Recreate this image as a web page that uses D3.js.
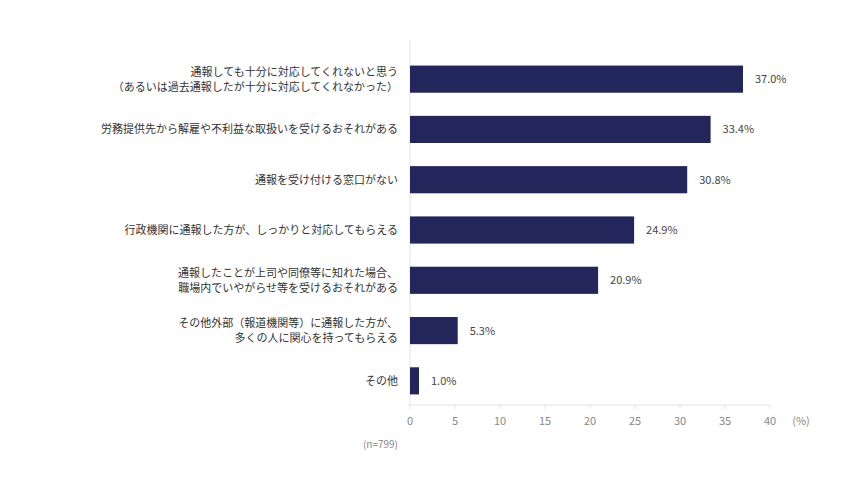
<!DOCTYPE html>
<html><head><meta charset="utf-8">
<script src="https://cdn.jsdelivr.net/npm/d3@7"></script>
<style>body{margin:0;background:#fff}text{font-family:"Noto Sans CJK JP",sans-serif}</style>
</head><body><svg id="c" width="860" height="500"></svg>
<script>
const categories = [
  ["通報しても十分に対応してくれないと思う","（あるいは過去通報したが十分に対応してくれなかった）"],
  ["労務提供先から解雇や不利益な取扱いを受けるおそれがある"],
  ["通報を受け付ける窓口がない"],
  ["行政機関に通報した方が、しっかりと対応してもらえる"],
  ["通報したことが上司や同僚等に知れた場合、","職場内でいやがらせ等を受けるおそれがある"],
  ["その他外部（報道機関等）に通報した方が、","多くの人に関心を持ってもらえる"],
  ["その他"]
];
const values = [37.0, 33.4, 30.8, 24.9, 20.9, 5.3, 1.0];
const ticks = [0,5,10,15,20,25,30,35,40];

const svg = d3.select("#c");
const x = d3.scaleLinear().domain([0,40]).range([410,770]);
const y = d3.scaleBand().domain(d3.range(values.length)).range([54,406]).paddingInner(0.46).paddingOuter(0.23);
const g = svg.append("g");
g.append("line").attr("x1",410).attr("x2",410).attr("y1",40).attr("y2",405).attr("stroke","#e3e3e3");
g.append("line").attr("x1",408).attr("x2",770).attr("y1",405).attr("y2",405).attr("stroke","#e3e3e3");
ticks.forEach(t=>{
  g.append("line").attr("x1",x(t)).attr("x2",x(t)).attr("y1",405).attr("y2",409).attr("stroke","#e3e3e3");
  g.append("text").attr("x",x(t)).attr("y",425).attr("text-anchor","middle").attr("font-size",11).attr("fill","#888").text(t);
});
g.append("text").attr("x",801).attr("y",425).attr("text-anchor","middle").attr("font-size",11).attr("fill","#888").text("(%)");
g.append("text").attr("x",398).attr("y",448).attr("text-anchor","end").attr("font-size",10).attr("fill","#888").text("(n=799)");
values.forEach((v,i)=>{
  const cy = y(i)+y.bandwidth()/2;
  g.append("rect").attr("x",x(0)).attr("y",y(i)).attr("width",x(v)-x(0)).attr("height",y.bandwidth()).attr("fill","#22265a");
  g.append("text").attr("x",x(v)+12).attr("y",cy+4).attr("font-size",11).attr("fill","#444").text(v.toFixed(1)+"%");
  const lines = categories[i];
  lines.forEach((l,j)=>{
    g.append("text").attr("x",398).attr("y",cy+4+(j-(lines.length-1)/2)*15)
      .attr("text-anchor","end").attr("font-size",11).attr("fill","#333").text(l);
  });
});
</script></body></html>
